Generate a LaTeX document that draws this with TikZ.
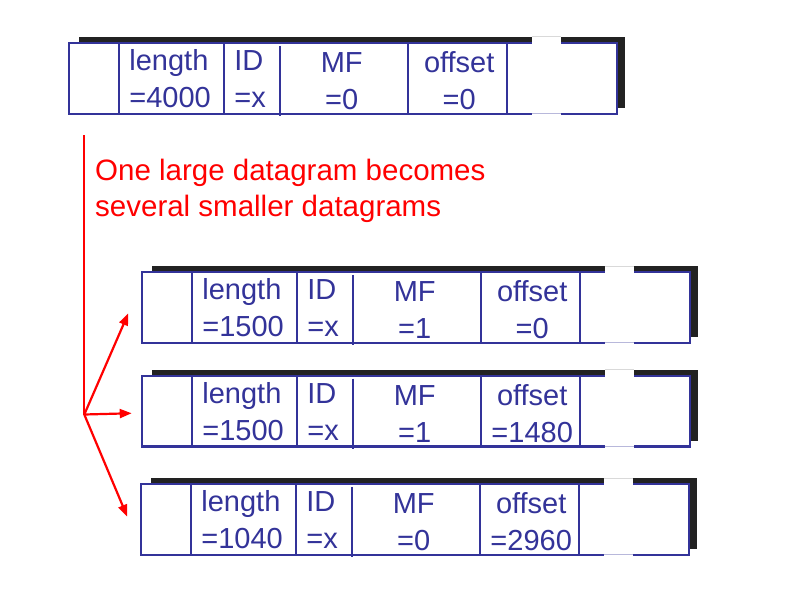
\documentclass[tikz,border=0pt]{standalone}
\usepackage{fontspec}
\setmainfont{Liberation Sans}
\usetikzlibrary{positioning,arrows.meta}
\definecolor{fieldblue}{RGB}{51,51,153}
\definecolor{shadowgray}{RGB}{34,34,34}

\begin{document}
\begin{tikzpicture}[x=1pt,y=-1pt,
    dgbox/.style={draw=fieldblue, line width=2.3pt, fill=white, rectangle, inner sep=0pt, outer sep=0pt,
                  minimum width=548pt, minimum height=70.5pt, anchor=north west},
    divider/.style={fieldblue, line width=2.3pt},
    fieldtext/.style={text=fieldblue, inner sep=0pt, font=\fontsize{29}{35}\selectfont},
    notetext/.style={text=red, inner sep=0pt, anchor=base west, font=\fontsize{29.5}{36}\selectfont},
    >={Triangle[length=12pt,width=9pt]},
    fragarrow/.style={red, line width=2.2pt, ->}]
    \useasboundingbox (0,0) rectangle (808,610);
    % the datagram and its three fragments
    \foreach \n/\x/\y/\len/\mf/\off in {dg/68.7/43.3/4000/0/0, fa/141.7/272.3/1500/1/0,
                                        fb/141.7/376/1500/1/1480, fc/140.7/484.3/1040/0/2960}{
      \fill[shadowgray] ({\x+10},{\y-6.5}) rectangle ({\x+556.5},{\y+64.5});
      \node[dgbox] (\n) at (\x,\y) {};
      \fill[white] ({\x+463},{\y-8}) rectangle ({\x+492},{\y+71.8});
      \draw[gray!30, line width=0.6pt] ({\x+463},{\y-6.5}) -- ({\x+492},{\y-6.5});
      \draw[fieldblue!35, line width=0.8pt] ({\x+463},{\y+70.5}) -- ({\x+492},{\y+70.5});
      \foreach \d in {50.5,155.5,339.5,438.5}
        \draw[divider] ({\x+\d},\y) -- ({\x+\d},{\y+70.5});
      \draw[divider] ({\x+211.5},{\y+2.5}) -- ({\x+211.5},{\y+73});
      \node[fieldtext, anchor=base west] (\n-lt) at ({\x+60.5},{\y+27.5}) {length};
      \node[fieldtext, anchor=base west] (\n-lv) at ({\x+60.5},{\y+64.5}) {=\len};
      \node[fieldtext, anchor=base west] (\n-it) at ({\x+165.5},{\y+27.5}) {ID};
      \node[fieldtext, anchor=base west] (\n-iv) at ({\x+165.5},{\y+64.5}) {=x};
      \node[fieldtext, anchor=base] (\n-mt) at ({\x+273},{\y+29}) {MF};
      \node[fieldtext, anchor=base] (\n-mv) at ({\x+273},{\y+66}) {=\mf};
      \node[fieldtext, anchor=base] (\n-ot) at ({\x+390.5},{\y+29.5}) {offset};
      \node[fieldtext, anchor=base] (\n-ov) at ({\x+390.5},{\y+66.5}) {=\off};
    }
    \node[notetext] (note-a) at (95,180) {One large datagram becomes};
    \node[notetext] (note-b) at (95,216.7) {several smaller datagrams};
    % split into fragments
    \coordinate (split-top) at (84.3,135);
    \coordinate (split) at (84.3,414.5);
    \draw[red, line width=2.2pt] (split-top) -- (split);
    \draw[fragarrow] (split) -- ([shift={(-13.4,5.75)}]fa.west);
    \draw[fragarrow] (split) -- ([shift={(-10,2)}]fb.west);
    \draw[fragarrow] (split) -- ([shift={(-13.4,-2.85)}]fc.west);
\end{tikzpicture}
\end{document}
